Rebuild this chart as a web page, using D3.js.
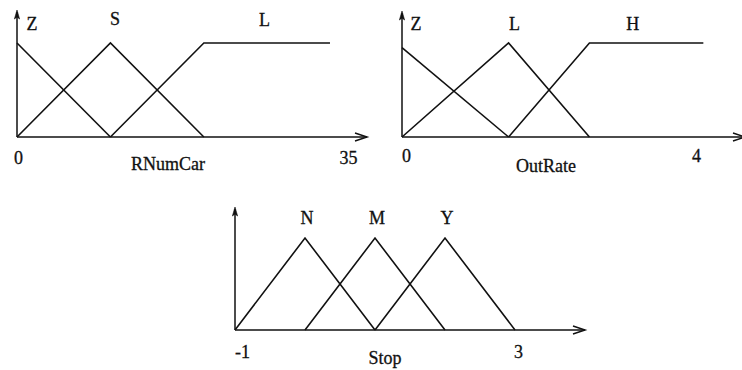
<!DOCTYPE html>
<html>
<head>
<meta charset="utf-8">
<script src="https://cdn.jsdelivr.net/npm/d3@7"></script>
<style>
  html, body { margin: 0; padding: 0; background: #fff; }
  svg { display: block; }
  text { font-family: "Liberation Serif", "Times New Roman", serif; fill: #111; stroke: #111; stroke-width: 0.3px; }
</style>
</head>
<body>
<svg id="chart" width="742" height="370"></svg>
<script>
// Membership functions of the three fuzzy variables: [x, membership] corner points.
const rnumcarTicks = [0, 35];
const rnumcarNames = ["Z", "S", "L"];
const rnumcarLabelAt = [1.6, 10.5, 26.5];
const rnumcarZ = [[0, 1], [10, 0]];
const rnumcarS = [[0, 0], [10, 1], [20, 0]];
const rnumcarL = [[10, 0], [20, 1], [33.5, 1]];

const outrateTicks = [0, 4];
const outrateNames = ["Z", "L", "H"];
const outrateLabelAt = [0.19, 1.53, 3.14];
const outrateZ = [[0, 0.95], [1.45, 0]];
const outrateL = [[0, 0], [1.45, 1], [2.55, 0]];
const outrateH = [[1.45, 0], [2.55, 1], [4.1, 1]];

const stopTicks = [-1, 3];
const stopNames = ["N", "M", "Y"];
const stopLabelAt = [0.03, 1.03, 2.03];
const stopN = [[-1, 0], [0, 1], [1, 0]];
const stopM = [[0, 0], [1, 1], [2, 0]];
const stopY = [[1, 0], [2, 1], [3, 0]];

const svg = d3.select("#chart");
const ink = "#111";

function drawPanel(p) {
  const g = svg.append("g");
  const x = d3.scaleLinear().domain(p.domain).range(p.xRange);
  const y = d3.scaleLinear().domain([0, 1]).range(p.yRange);
  const x0 = x(p.domain[0]);
  const y0 = y(0);

  // vertical axis with a small filled arrowhead
  g.append("line")
    .attr("x1", x0).attr("y1", y0).attr("x2", x0).attr("y2", p.yTop + 2)
    .attr("stroke", ink).attr("stroke-width", 1.5);
  g.append("path")
    .attr("d", `M${x0},${p.yTop} L${x0 - 2.6},${p.yTop + 9} L${x0},${p.yTop + 7} L${x0 + 2.6},${p.yTop + 9} Z`)
    .attr("fill", ink).attr("stroke", ink).attr("stroke-width", 0.6);

  // horizontal axis with an open arrowhead
  g.append("line")
    .attr("x1", x0).attr("y1", y0).attr("x2", p.xTip).attr("y2", y0)
    .attr("stroke", ink).attr("stroke-width", 1.5);
  g.append("path")
    .attr("d", `M${p.xTip - 12},${y0 - 4} L${p.xTip},${y0} L${p.xTip - 12},${y0 + 4}`)
    .attr("fill", "none").attr("stroke", ink).attr("stroke-width", 1.5);

  // membership functions
  const line = d3.line().x(d => x(d[0])).y(d => y(d[1]));
  g.selectAll("path.mf").data(p.sets).join("path")
    .attr("class", "mf")
    .attr("d", line)
    .attr("fill", "none").attr("stroke", ink).attr("stroke-width", 1.6)
    .attr("stroke-linejoin", "miter");

  // set names above the peaks
  g.selectAll("text.name").data(p.names).join("text")
    .attr("class", "name")
    .attr("x", (d, i) => x(p.labelAt[i]))
    .attr("y", (d, i) => p.nameY[i])
    .attr("text-anchor", "middle")
    .attr("font-size", 18)
    .text(d => d);

  // end tick labels (plain hyphen for negatives)
  const axis = d3.axisBottom(x).tickValues(p.ticks).tickSize(0).tickPadding(0)
    .tickFormat(d => String(d));
  const ax = g.append("g").attr("transform", `translate(0,${p.tickY})`).call(axis);
  ax.select(".domain").remove();
  ax.selectAll("text")
    .attr("font-size", 18)
    .attr("font-family", "Liberation Serif, Times New Roman, serif")
    .attr("fill", ink)
    .attr("dy", 0)
    .attr("dx", (d, i) => p.tickDx[i]);

  // axis title
  g.append("text")
    .attr("x", p.titleX).attr("y", p.titleY)
    .attr("text-anchor", "middle")
    .attr("font-size", 18)
    .text(p.title);
}

drawPanel({
  domain: [0, 35], xRange: [17, 344], yRange: [137, 43], yTop: 10, xTip: 367,
  sets: [rnumcarZ, rnumcarS, rnumcarL], names: rnumcarNames, labelAt: rnumcarLabelAt,
  nameY: [30, 25, 26], ticks: rnumcarTicks, tickY: 164, tickDx: [1, 4],
  title: "RNumCar", titleX: 168, titleY: 170
});

drawPanel({
  domain: [0, 4], xRange: [402, 696], yRange: [137, 43], yTop: 11, xTip: 745,
  sets: [outrateZ, outrateL, outrateH], names: outrateNames, labelAt: outrateLabelAt,
  nameY: [30, 30, 30], ticks: outrateTicks, tickY: 162, tickDx: [4, 0],
  title: "OutRate", titleX: 546, titleY: 172
});

drawPanel({
  domain: [-1, 3], xRange: [235, 515], yRange: [330, 238], yTop: 207, xTip: 585,
  sets: [stopN, stopM, stopY], names: stopNames, labelAt: stopLabelAt,
  nameY: [224, 224, 224], ticks: stopTicks, tickY: 358, tickDx: [7, 3],
  title: "Stop", titleX: 385, titleY: 364
});
</script>
</body>
</html>
